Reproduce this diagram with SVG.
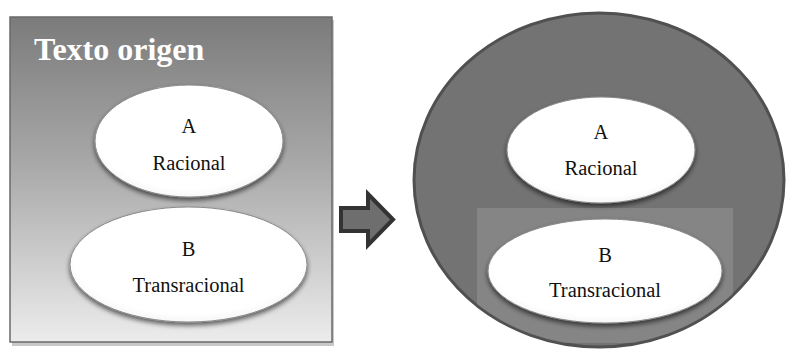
<svg xmlns="http://www.w3.org/2000/svg" width="787" height="350" viewBox="0 0 787 350">
<defs>
<linearGradient id="boxGrad" x1="0" y1="0" x2="0" y2="1">
<stop offset="0" stop-color="#7b7b7b"/>
<stop offset="0.45" stop-color="#a8a8a8"/>
<stop offset="1" stop-color="#ececec"/>
</linearGradient>
<radialGradient id="ellGrad" cx="0.5" cy="0.45" r="0.6">
<stop offset="0.8" stop-color="#ffffff"/>
<stop offset="1" stop-color="#f0f0f0"/>
</radialGradient>
<filter id="shadow" x="-20%" y="-20%" width="140%" height="150%">
<feGaussianBlur in="SourceAlpha" stdDeviation="2.5"/>
<feOffset dx="0" dy="3" result="b"/>
<feComponentTransfer><feFuncA type="linear" slope="0.6"/></feComponentTransfer>
<feMerge><feMergeNode/><feMergeNode in="SourceGraphic"/></feMerge>
</filter>
<clipPath id="circClip"><ellipse cx="599" cy="180" rx="184" ry="166"/></clipPath>
</defs>
<style>
.ell{fill:url(#ellGrad);stroke:#8a8a8a;stroke-width:1;filter:url(#shadow)}
.lbl{font-family:"Liberation Serif","Times New Roman",serif;font-size:20.5px;fill:#111;text-anchor:middle}
</style>
<rect width="787" height="350" fill="#ffffff"/>
<g id="source-box">
<rect x="12" y="20" width="322" height="326" fill="#c8c8c8"/>
<rect x="10" y="17" width="322" height="325" fill="url(#boxGrad)" stroke="#6a6a6a" stroke-width="1.5"/>
<text x="34" y="60" font-family="'Liberation Serif','Times New Roman',serif" font-weight="bold" font-size="32" fill="#ffffff">Texto origen</text>
</g>
<g id="left-a">
<ellipse class="ell" cx="189" cy="141" rx="94" ry="56"/>
<text class="lbl" x="189" y="133">A</text>
<text class="lbl" x="189" y="170">Racional</text>
</g>
<g id="left-b">
<ellipse class="ell" cx="188.5" cy="264.5" rx="118.5" ry="57.5"/>
<text class="lbl" x="188.5" y="256">B</text>
<text class="lbl" x="188.5" y="292">Transracional</text>
</g>
<g id="connectors">
<polygon points="341,208 368,208 368,194 393,219.5 368,245 368,231 341,231" fill="#6e6e6e" stroke="#333333" stroke-width="4" stroke-linejoin="miter"/>
</g>
<g id="target-circle">
<ellipse cx="599" cy="180" rx="185" ry="167" fill="#737373" stroke="#505050" stroke-width="3"/>
</g>
<g id="right-a">
<ellipse class="ell" cx="601" cy="150" rx="94" ry="53"/>
<text class="lbl" x="601" y="139">A</text>
<text class="lbl" x="601" y="175">Racional</text>
</g>
<g id="right-b">
<rect x="477" y="208" width="256" height="135" fill="#a0a0a0" fill-opacity="0.4" clip-path="url(#circClip)"/>
<ellipse class="ell" cx="605" cy="271" rx="117" ry="52"/>
<text class="lbl" x="605" y="262">B</text>
<text class="lbl" x="605" y="297">Transracional</text>
</g>
</svg>
